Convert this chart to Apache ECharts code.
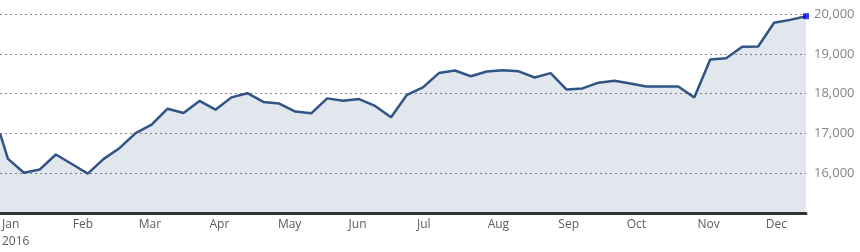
<!DOCTYPE html>
<html>
<head>
<meta charset="utf-8">
<script src="https://cdn.jsdelivr.net/npm/echarts@6/dist/echarts.min.js"></script>
<style>
html,body{margin:0;padding:0;background:#fff;}
#c{width:860px;height:252px;}
</style>
</head>
<body>
<div id="c"></div>
<script>
// Weekly closing values, 2016
const dates = ['2016-01-04T12:00','2016-01-08','2016-01-15','2016-01-22','2016-01-29','2016-02-05','2016-02-12','2016-02-19','2016-02-26',
'2016-03-04','2016-03-11','2016-03-18','2016-03-25','2016-04-01','2016-04-08','2016-04-15','2016-04-22','2016-04-29',
'2016-05-06','2016-05-13','2016-05-20','2016-05-27','2016-06-03','2016-06-10','2016-06-17','2016-06-24',
'2016-07-01','2016-07-08','2016-07-15','2016-07-22','2016-07-29','2016-08-05','2016-08-12','2016-08-19','2016-08-26',
'2016-09-02','2016-09-09','2016-09-16','2016-09-23','2016-09-30','2016-10-07','2016-10-14','2016-10-21','2016-10-28',
'2016-11-04','2016-11-11','2016-11-18','2016-11-25','2016-12-02','2016-12-09','2016-12-16','2016-12-23'];
const values = [17000,16360,16010,16095,16470,16230,15990,16360,16635,
17006,17220,17620,17512,17815,17595,17905,18010,17790,
17750,17550,17505,17880,17820,17862,17690,17405,
17970,18155,18516,18580,18436,18555,18585,18560,18405,
18515,18100,18130,18275,18325,18252,18180,18180,18180,
17900,18858,18890,19175,19183,19780,19852,19945];
const monthLabelDates = ['2016-01-04T12:00','2016-02-01','2016-03-01','2016-04-01','2016-05-01','2016-06-01',
'2016-07-01','2016-08-01','2016-09-01','2016-10-01','2016-11-01','2016-12-01'];
const monthNames = ['Jan','Feb','Mar','Apr','May','Jun','Jul','Aug','Sep','Oct','Nov','Dec'];
const yearLabel = '2016';
const yMin = 15000, yMax = 20000, yStep = 1000;

const ts = s => new Date(s).getTime();
const chart = echarts.init(document.getElementById('c'), null, {renderer:'canvas'});
const seriesData = dates.map((d,i)=>[ts(d), values[i]]);
const last = seriesData[seriesData.length-1];
const labelPos = monthLabelDates.map(ts);
const font = '"Open Sans", "Segoe UI", sans-serif';

chart.setOption({
  animation:false,
  backgroundColor:'#ffffff',
  grid:{left:0,right:54,top:14,bottom:39,containLabel:false,outerBoundsMode:'none'},
  xAxis:{
    type:'value',
    min: ts(dates[0]),
    max: ts(dates[dates.length-1]),
    scale:true,
    z:10,
    axisLine:{show:true,onZero:false,lineStyle:{color:'#333333',width:3}},
    axisTick:{show:false},
    splitLine:{show:false},
    axisLabel:{
      customValues: labelPos,
      showMinLabel:true, showMaxLabel:true,
      hideOverlap:false,
      align:'left',
      margin:3,
      color:'#5c5c5c',
      fontFamily:font,
      fontSize:12,
      lineHeight:17,
      formatter:function(v){
        const m = new Date(v).getMonth();
        if (m===0) return '{j|'+monthNames[0]+'}\n{j|'+yearLabel+'}';
        return '{m|'+monthNames[m]+'}';
      },
      rich:{
        j:{fontFamily:font,fontSize:12,color:'#5c5c5c',lineHeight:17,padding:[0,0,0,2]},
        m:{fontFamily:font,fontSize:12,color:'#5c5c5c',lineHeight:17,padding:[0,0,0,10]}
      }
    }
  },
  yAxis:{
    type:'value',
    position:'right',
    min:yMin,max:yMax,interval:yStep,
    axisLine:{show:false},
    axisTick:{show:false},
    axisLabel:{show:true,showMinLabel:false,margin:8,color:'#858585',fontFamily:font,fontSize:13},
    splitLine:{show:true,lineStyle:{color:'#8a8a8a',width:1.2,type:[2,3]}}
  },
  series:[
    {
      type:'line',
      data:seriesData,
      symbol:'none',
      lineStyle:{color:'#2f5485',width:2.5},
      areaStyle:{color:'#2f5485',opacity:0.14},
      z:2
    },
    {
      type:'scatter',
      data:[last],
      symbol:'rect',
      symbolSize:6,
      itemStyle:{color:'#0a0aee'},
      z:5
    }
  ]
});
</script>
</body>
</html>
